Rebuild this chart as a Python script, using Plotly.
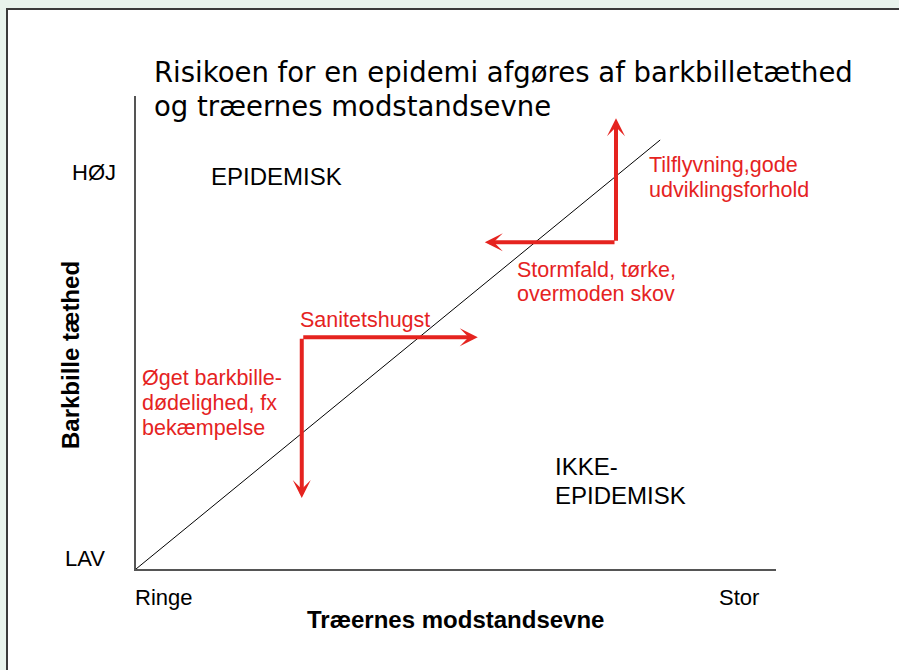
import plotly.graph_objects as go

W, H = 899, 670

# ---- data (axes: 0 = Ringe/LAV, 1 = Stor/HØJ) ----
threshold_x = [0.0, 0.819]
threshold_y = [0.0, 0.907]

# arrows: (tail_x, tail_y, tip_x, tip_y)
arrow_tail_x = [0.75, 0.75, 0.259, 0.259]
arrow_tail_y = [0.691, 0.691, 0.490, 0.490]
arrow_tip_x = [0.75, 0.545, 0.534, 0.259]
arrow_tip_y = [0.953, 0.691, 0.490, 0.150]

x_tick_labels = ["Ringe", "Stor"]
y_tick_labels = ["LAV", "HØJ"]
x_title = "Træernes modstandsevne"
y_title = "Barkbille tæthed"
title_lines = ["Risikoen for en epidemi afgøres af barkbilletæthed",
               "og træernes modstandsevne"]
region_labels = ["EPIDEMISK", "IKKE-", "EPIDEMISK"]
red_texts = ["Tilflyvning,gode", "udviklingsforhold",
             "Stormfald, tørke,", "overmoden skov",
             "Sanitetshugst",
             "Øget barkbille-", "dødelighed, fx", "bekæmpelse"]

RED = "#e5231f"
FONT = "Liberation Sans, Arial, sans-serif"
TFONT = "DejaVu Sans, sans-serif"


def px(x):
    return x / W


def py(y):
    return 1 - y / H


X0, X1 = 136, 776
Y0, Y1 = 569, 96

fig = go.Figure()
fig.add_trace(go.Scatter(x=threshold_x, y=threshold_y, mode="lines",
                         line=dict(color="black", width=1),
                         hoverinfo="skip", showlegend=False))

ann = []
for tx, ty, hx, hy in zip(arrow_tail_x, arrow_tail_y, arrow_tip_x, arrow_tip_y):
    ann.append(dict(x=hx, y=hy, ax=tx, ay=ty, xref="x", yref="y",
                    axref="x", ayref="y", text="", showarrow=True,
                    arrowhead=3, arrowsize=0.75, arrowwidth=4,
                    arrowcolor=RED, standoff=0))


def txt(s, x, y, size=22, color="black", xanchor="center", bold=False,
        family=FONT, angle=0):
    if bold:
        s = "<b>" + s + "</b>"
    ann.append(dict(text=s, x=px(x), y=py(y), xref="paper", yref="paper",
                    xanchor=xanchor, yanchor="middle", showarrow=False,
                    textangle=angle,
                    font=dict(size=size, color=color, family=family)))


# title
txt(title_lines[0], 152, 72, size=27.5, xanchor="left", family=TFONT)
txt(title_lines[1], 152, 106, size=27.5, xanchor="left", family=TFONT)

# tick labels
txt(x_tick_labels[0], 163, 597)
txt(x_tick_labels[1], 739, 597)
txt(y_tick_labels[0], 85, 558)
txt(y_tick_labels[1], 94, 172)

# axis titles
txt(x_title, 455, 619, size=24, bold=True)
txt(y_title, 70, 355, size=24, bold=True, angle=-90)

# region labels
txt(region_labels[0], 276, 176, size=24)
txt(region_labels[1], 553, 466, size=24, xanchor="left")
txt(region_labels[2], 553, 495, size=24, xanchor="left")

# red annotations
red_pos = [(647, 165), (647, 190), (515, 270), (515, 294), (298, 320),
           (140, 378), (140, 403), (140, 428)]
for s, (x, y) in zip(red_texts, red_pos):
    txt(s, x, y, size=21.5, color=RED, xanchor="left")

fig.update_layout(
    width=W, height=H, autosize=False,
    margin=dict(l=0, r=0, t=0, b=0),
    paper_bgcolor="#e8f3ec", plot_bgcolor="white",
    annotations=ann,
    shapes=[dict(type="rect", xref="paper", yref="paper",
                 x0=px(7), x1=px(905), y0=py(676), y1=py(9),
                 fillcolor="white", line=dict(color="#3a3a3a", width=2),
                 layer="below")],
    xaxis=dict(domain=[px(X0), px(X1)], range=[0, 1], showgrid=False,
               zeroline=False, showticklabels=False, ticks="",
               showline=True, linecolor="#555555", linewidth=2),
    yaxis=dict(domain=[py(Y0), py(Y1)], range=[0, 1], showgrid=False,
               zeroline=False, showticklabels=False, ticks="",
               showline=True, linecolor="#555555", linewidth=2),
)

fig.write_html("out.html",
               config={"displayModeBar": False},
               post_script="document.body.style.margin='0';"
                           "document.body.style.background='#e8f3ec';")
